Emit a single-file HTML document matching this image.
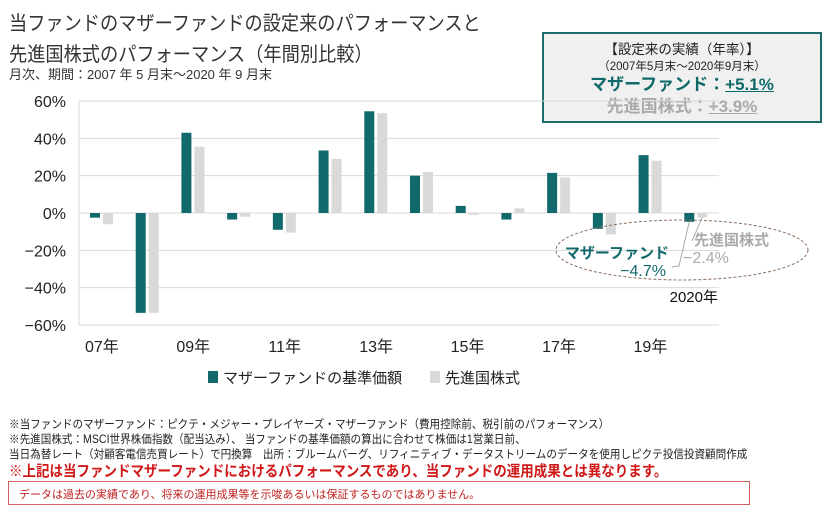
<!DOCTYPE html>
<html><head><meta charset="utf-8">
<style>
body{margin:0;width:838px;height:515px;background:#fff;position:relative;overflow:hidden;font-family:"Liberation Sans","Noto Sans CJK JP",sans-serif;color:#222}
.a{position:absolute;white-space:nowrap}
.t{font-size:20px;left:9px;color:#333;transform:scaleX(0.91);transform-origin:left}
.fn{font-size:11.5px;left:9px;transform:scaleX(0.92);transform-origin:left;color:#222}
</style></head><body>
<div class="a t" style="top:7px">当ファンドのマザーファンドの設定来のパフォーマンスと</div>
<div class="a t" style="top:38px">先進国株式のパフォーマンス（年間別比較）</div>
<div class="a" style="top:64px;left:9px;font-size:13px;color:#333">月次、期間：2007 年 5 月末～2020 年 9 月末</div>

<div class="a" style="left:542px;top:32px;width:276px;height:87px;border:2px solid #1f6b6b;background:#f0f0f0;text-align:center">
<div style="font-size:13.5px;margin-top:4px;color:#222">【設定来の実績（年率）】</div>
<div style="font-size:11.5px;color:#222">（2007年5月末～2020年9月末）</div>
<div style="font-size:17px;color:#116a6a;font-weight:bold;line-height:22px">マザーファンド：<u>+5.1%</u></div>
<div style="font-size:17px;color:#aaa;font-weight:bold;line-height:22px">先進国株式：<u>+3.9%</u></div>
</div>

<svg class="a" style="left:0;top:0" width="838" height="400" id="chart"></svg>

<div class="a fn" style="top:416px">※当ファンドのマザーファンド：ピクテ・メジャー・プレイヤーズ・マザーファンド（費用控除前、税引前のパフォーマンス）</div>
<div class="a fn" style="top:431px">※先進国株式：MSCI世界株価指数（配当込み）、 当ファンドの基準価額の算出に合わせて株価は1営業日前、</div>
<div class="a fn" style="top:446px">当日為替レート（対顧客電信売買レート）で円換算　出所：ブルームバーグ、リフィニティブ・データストリームのデータを使用しピクテ投信投資顧問作成</div>
<div class="a" style="top:460px;left:9px;font-size:15px;font-weight:bold;color:#d01818;transform:scaleX(0.9);transform-origin:left">※上記は当ファンドマザーファンドにおけるパフォーマンスであり、当ファンドの運用成果とは異なります。</div>
<div class="a" style="top:481px;left:8px;width:740px;height:22px;border:1px solid #d06060">
<span style="position:absolute;left:10px;top:4px;font-size:11px;color:#c02020;white-space:nowrap">データは過去の実績であり、将来の運用成果等を示唆あるいは保証するものではありません。</span></div>

<script>
const years=["07","08","09","10","11","12","13","14","15","16","17","18","19","20"];
const motherFund=[-2.5,-53.5,43,-3.5,-9,33.5,54.5,20,3.8,-3.5,21.5,-8.5,31,-4.7];
const developedEquity=[-6,-53.5,35.5,-2,-10.5,29,53.5,22,-1,2.5,19,-11.5,28,-2.4];
const yTicks=[60,40,20,0,-20,-40,-60];
const xLabelYears=["07","09","11","13","15","17","19"];
const svg=document.getElementById('chart');
const NS='http://www.w3.org/2000/svg';
const L=79,R=719,T=101,B=325;
const y=v=>T+(60-v)/120*(B-T);
const bw=(R-L)/years.length;
const x=i=>L+i*bw;
function mk(tag,at,txt){const e=document.createElementNS(NS,tag);for(const k in at)e.setAttribute(k,at[k]);if(txt!=null)e.textContent=txt;svg.appendChild(e);return e;}
yTicks.forEach(t=>{
 const g=mk('line',{x1:L,x2:R,y1:y(t),y2:y(t),stroke:'#d9d9d9','stroke-width':1});
 
 
 const lb=mk('text',{x:66,y:y(t)+6,'text-anchor':'end','font-size':16,fill:'#222'},(t<0?'−'+(-t):t)+'%');
 
 
});
const ax=mk('line',{x1:L,x2:L,y1:T,y2:B,stroke:'#d9d9d9'});


years.forEach((yr,i)=>{
 const a=motherFund[i],b=developedEquity[i];
 const r1=mk('rect',{x:x(i)+11,y:Math.min(y(a),y(0)),width:10,height:Math.abs(y(a)-y(0)),fill:'#12696b'});
 
 
 const r2=mk('rect',{x:x(i)+24,y:Math.min(y(b),y(0)),width:10,height:Math.abs(y(b)-y(0)),fill:'#d9d9d9'});
 
 
 if(xLabelYears.includes(yr)){
  const t=mk('text',{x:x(i)+bw/2,y:352,'text-anchor':'middle','font-size':16,fill:'#222'},yr+'年');
  
  
 }
});
const l=years.length-1;
const el=mk('ellipse',{cx:682,cy:250,rx:126,ry:30,fill:'none',stroke:'#8a7060','stroke-dasharray':'3,2'});


const ln1=mk('polyline',{points:`${x(l)+16},${y(motherFund[l])} 679,266 672,267`,fill:'none',stroke:'#aaa'});


const ln2=mk('polyline',{points:`${x(l)+29},${y(developedEquity[l])} 692,241`,fill:'none',stroke:'#aaa'});


const a1=mk('text',{x:669,y:258,'text-anchor':'end','font-size':15,fill:'#12696b','font-weight':'bold'},'マザーファンド');


const a2=mk('text',{x:666,y:276,'text-anchor':'end','font-size':16,fill:'#12696b'},'−'+(-motherFund[l])+'%');


const a3=mk('text',{x:694,y:245,'font-size':15,fill:'#aaa','font-weight':'bold'},'先進国株式');


const a4=mk('text',{x:683,y:263,'font-size':16,fill:'#aaa'},'−'+(-developedEquity[l])+'%');


const a5=mk('text',{x:718,y:302,'text-anchor':'end','font-size':15,fill:'#111'},'2020年');


const lg1=mk('rect',{x:208,y:371,width:10,height:12,fill:'#12696b'});


const lt1=mk('text',{x:223,y:383,'font-size':15,fill:'#222'},'マザーファンドの基準価額');


const lg2=mk('rect',{x:430,y:371,width:10,height:12,fill:'#d9d9d9'});


const lt2=mk('text',{x:445,y:383,'font-size':15,fill:'#222'},'先進国株式');


</script>
</body></html>
